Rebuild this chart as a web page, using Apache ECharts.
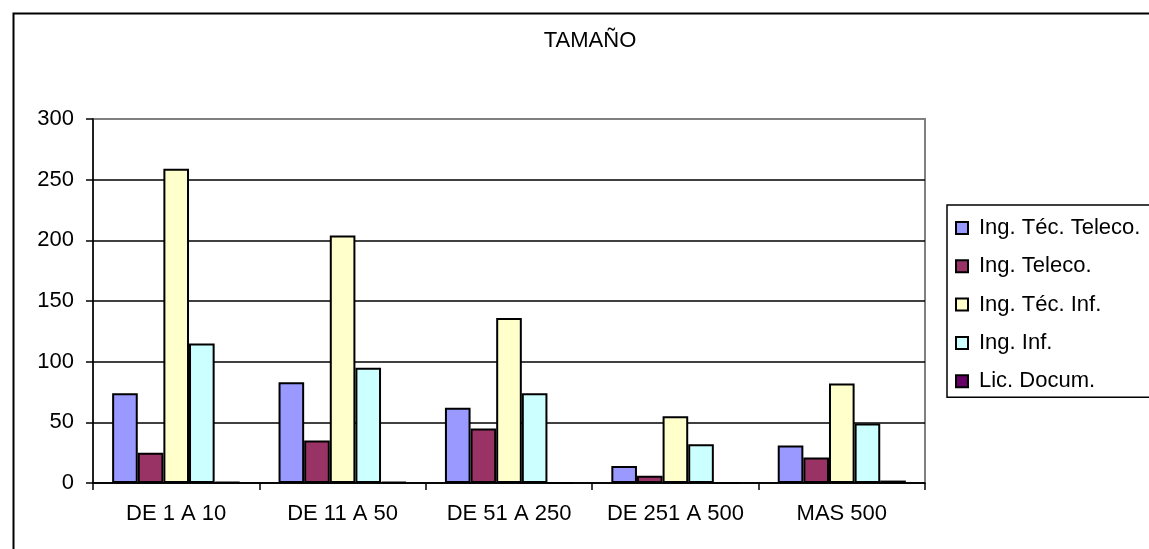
<!DOCTYPE html>
<html>
<head>
<meta charset="utf-8">
<script src="https://cdn.jsdelivr.net/npm/echarts@6/dist/echarts.min.js"></script>
<style>html,body{margin:0;padding:0;background:#fff;}#c{width:1149px;height:549px;}</style>
</head>
<body>
<div id="c"></div>
<script>
const title = 'TAMAÑO';
const categories = ['DE 1 A 10', 'DE 11 A 50', 'DE 51 A 250', 'DE 251 A 500', 'MAS 500'];
const seriesNames = ['Ing. Téc. Teleco.', 'Ing. Teleco.', 'Ing. Téc. Inf.', 'Ing. Inf.', 'Lic. Docum.'];
const ingTecTeleco = [74, 83, 62, 14, 31];
const ingTeleco = [25, 35, 45, 6, 21];
const ingTecInf = [259, 204, 136, 55, 82];
const ingInf = [115, 95, 74, 32, 49];
const licDocum = [1, 1, 0, 0, 2];
const colors = ['#9999FF', '#993366', '#FFFFCC', '#CCFFFF', '#660066'];
const yTicks = { min: 0, max: 300, interval: 50 };

const font = "'Liberation Sans', Arial, sans-serif";
const allData = [ingTecTeleco, ingTeleco, ingTecInf, ingInf, licDocum];

const chart = echarts.init(document.getElementById('c'), null, { renderer: 'canvas' });
chart.setOption({
  animation: false,
  backgroundColor: '#fff',
  title: {
    text: title, left: 590, top: 30, textAlign: 'center', padding: 0,
    textStyle: { fontFamily: font, fontSize: 22, fontWeight: 'normal', color: '#000' }
  },
  grid: {
    left: 93, right: 224, top: 119, bottom: 66,
    show: true, borderColor: '#808080', borderWidth: 2, backgroundColor: 'transparent'
  },
  legend: {
    orient: 'vertical', left: 947, top: 205,
    padding: [12, 30, 5, 8],
    itemGap: 16.3, itemWidth: 12, itemHeight: 12,
    icon: 'rect',
    borderColor: '#000', borderWidth: 1.5,
    textStyle: { fontFamily: font, fontSize: 22, color: '#000', lineHeight: 20, padding: [0, 0, 0, 6] },
    data: seriesNames
  },
  xAxis: {
    type: 'category', data: categories,
    axisLine: { lineStyle: { color: '#000', width: 1.5 } },
    axisTick: { show: true, length: 7, alignWithLabel: false, lineStyle: { color: '#000', width: 1.5 } },
    axisLabel: { fontFamily: font, fontSize: 22, color: '#000', margin: 20, interval: 0 }
  },
  yAxis: {
    type: 'value', min: yTicks.min, max: yTicks.max, interval: yTicks.interval,
    axisLine: { show: true, lineStyle: { color: '#000', width: 1.5 } },
    axisTick: { show: true, length: 7, lineStyle: { color: '#000', width: 1.5 } },
    axisLabel: { fontFamily: font, fontSize: 22, color: '#000', margin: 19 },
    splitLine: { show: true, showMaxLine: false, lineStyle: { color: '#000', width: 1.5 } }
  },
  series: seriesNames.map((name, i) => ({
    name, type: 'bar', data: allData[i],
    barGap: '0%', barCategoryGap: '23%',
    itemStyle: { color: colors[i], borderColor: '#000', borderWidth: 2 }
  })),
  graphic: [{
    type: 'rect', left: 11, top: 11, silent: true,
    shape: { x: 0, y: 0, width: 1200, height: 600 },
    style: { fill: 'none', stroke: '#000', lineWidth: 2 }, z: 100
  }]
});
</script>
</body>
</html>
